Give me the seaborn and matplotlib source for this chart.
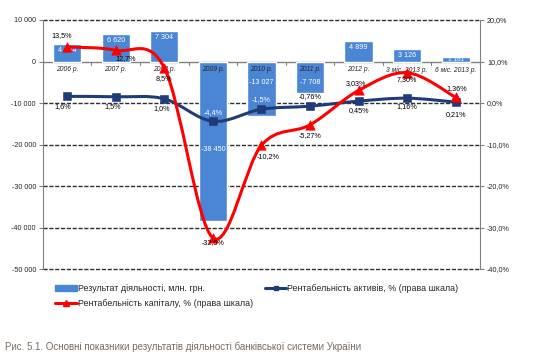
import numpy as np
import pandas as pd
import matplotlib
matplotlib.use("Agg")
import matplotlib.pyplot as plt
import seaborn as sns
from matplotlib.path import Path
from matplotlib.patches import PathPatch, Patch
from matplotlib.lines import Line2D

# --- Data ---
categories = ["2006 р.", "2007 р.", "2008 р.", "2009 р.", "2010 р.", "2011 р.",
              "2012 р.", "3 міс. 2013 р.", "6 міс. 2013 р."]
result_mln = [4144, 6620, 7304, -38450, -13027, -7708, 4899, 3126, 1181]
roa = [1.6, 1.5, 1.0, -4.4, -1.5, -0.76, 0.45, 1.16, 0.21]
roe = [13.5, 12.7, 8.5, -32.5, -10.2, -5.27, 3.03, 7.30, 1.36]
pct_decimals = [1, 1, 1, 1, 1, 2, 2, 2, 2]

left_ticks = [10000, 0, -10000, -20000, -30000, -40000, -50000]
right_ticks = [20, 10, 0, -10, -20, -30, -40]

legend_labels = ["Результат діяльності, млн. грн.",
                 "Рентабельність капіталу, % (права шкала)",
                 "Рентабельність активів, % (права шкала)"]
caption = "Рис. 5.1. Основні показники результатів діяльності банківської системи України"

# --- Style ---
sns.set_style("white")
plt.rcParams["font.family"] = ["Liberation Sans", "DejaVu Sans"]

C_BAR = "#4A86D4"
C_ROA = "#1F3C78"
C_ROE = "#FF0000"
C_GRID = "#2E2E2E"
C_AXIS = "#808080"
FS = 5.2

df = pd.DataFrame({"cat": categories, "val": result_mln})

fig = plt.figure(figsize=(5.36, 3.61), dpi=100)
ax = fig.add_axes([0.080, 0.2548, 0.8155, 0.6898])

sns.barplot(data=df, x="cat", y="val", order=categories, color=C_BAR,
            width=0.58, saturation=1, ax=ax, zorder=2)

ax.set_ylim(-50000, 10000)
ax.set_xlim(-0.5, len(categories) - 0.5)
ax.set_yticks(left_ticks)
ax.set_yticklabels([f"{t:,}".replace(",", " ") for t in left_ticks], fontsize=FS)
ax.set_xticks([])
ax.set_xlabel("")
ax.set_ylabel("")
for t in left_ticks:
    if t != 0:
        ax.axhline(t, color=C_GRID, lw=1.0, ls=(0, (3.0, 1.2)), zorder=0, clip_on=False)
ax.axhline(0, color=C_AXIS, lw=1.0, zorder=1)
for b in np.arange(-0.5, len(categories), 1.0):
    ax.plot([b, b], [0, -900], color=C_AXIS, lw=0.8, zorder=1)

for s in ["top", "bottom", "right"]:
    ax.spines[s].set_visible(False)
ax.spines["left"].set_color(C_AXIS)
ax.tick_params(axis="y", length=3, width=0.8, color=C_AXIS, pad=2)

# bar value labels
for i, v in enumerate(result_mln):
    txt = f"{v:,}".replace(",", " ")
    if v > 0:
        y = max(v - 1600, v / 2)
        fs = FS if v > 2000 else 4.6
    else:
        y = v * 0.55 if v < -20000 else -5000
        fs = FS
    ax.text(i, y, txt, ha="center", va="center", color="white", fontsize=fs, zorder=6)

# category labels under the zero line
for i, c in enumerate(categories):
    ax.annotate(c, (i, 0), xytext=(0, -3.2), textcoords="offset points",
                ha="center", va="top", fontsize=4.9, style="italic", zorder=7)

# --- Right axis: ratios ---
ax2 = ax.twinx()
ax2.set_ylim(-40, 20)
ax2.set_yticks(right_ticks)
ax2.set_yticklabels([f"{t:.1f}%".replace(".", ",") for t in right_ticks], fontsize=FS)
for s in ["top", "bottom", "left"]:
    ax2.spines[s].set_visible(False)
ax2.spines["right"].set_color(C_AXIS)
ax2.tick_params(axis="y", length=3, width=0.8, color=C_AXIS, pad=2)


def smooth_path(xs, ys):
    # Bezier smoothing through the data points (Excel style smoothed line)
    pts = np.column_stack([xs, ys]).astype(float)
    verts = [pts[0]]
    codes = [Path.MOVETO]
    n = len(pts)
    for i in range(n - 1):
        p0 = pts[max(i - 1, 0)]
        p1 = pts[i]
        p2 = pts[i + 1]
        p3 = pts[min(i + 2, n - 1)]
        c1 = p1 + (p2 - p0) / 6.0
        c2 = p2 - (p3 - p1) / 6.0
        verts += [c1, c2, p2]
        codes += [Path.CURVE4] * 3
    return Path(verts, codes)


xs = np.arange(len(categories))
ax2.add_patch(PathPatch(smooth_path(xs, roa), fill=False, ec=C_ROA, lw=2.2,
                        zorder=3, capstyle="round"))
sns.scatterplot(x=xs, y=roa, marker="s", s=28, color=C_ROA, edgecolor=C_ROA,
                ax=ax2, zorder=4, legend=False)
ax2.add_patch(PathPatch(smooth_path(xs, roe), fill=False, ec=C_ROE, lw=2.2,
                        zorder=5, capstyle="round"))
sns.scatterplot(x=xs, y=roe, marker="^", s=45, color=C_ROE, edgecolor=C_ROE,
                ax=ax2, zorder=5, legend=False)
ax2.set_xlim(-0.5, len(categories) - 0.5)

roe_off = [(-4, 8), (7, -6), (0, -8), (0, -3), (5, -8), (0, -8), (-2, 5), (0, -5), (1, 6)]
roa_off = [(-3, -7), (-2, -7), (-2, -7), (0, 6), (0, 7), (0, 7), (0, -7), (0, -6), (0, -9)]


def pct(v, d):
    return f"{v:.{d}f}%".replace(".", ",")


for i in range(len(categories)):
    ax2.annotate(pct(roe[i], pct_decimals[i]), (i, roe[i]), xytext=roe_off[i],
                 textcoords="offset points", ha="center", va="center",
                 fontsize=FS, color="black", zorder=8)
    inside = result_mln[i] < 0 and i in (3, 4)
    ax2.annotate(pct(roa[i], pct_decimals[i]), (i, roa[i]), xytext=roa_off[i],
                 textcoords="offset points", ha="center", va="center",
                 fontsize=FS, color="white" if inside else "black", zorder=8)

# --- Legend ---
handles = [Patch(facecolor=C_BAR, edgecolor=C_BAR),
           Line2D([], [], color=C_ROE, lw=2.2, marker="^", ms=4),
           Line2D([], [], color=C_ROA, lw=2.2, marker="s", ms=3.5)]
fig.legend(handles, legend_labels, loc="upper left", bbox_to_anchor=(0.095, 0.225),
           ncol=2, frameon=False, fontsize=6.4, handlelength=2.4, handleheight=0.6,
           handletextpad=0.1, columnspacing=1.4, labelspacing=0.6, borderpad=0)

fig.text(0.01, 0.04, caption, fontsize=7, color="#7A6A5E", ha="left", va="center")

fig.savefig("out.png", dpi=100)
